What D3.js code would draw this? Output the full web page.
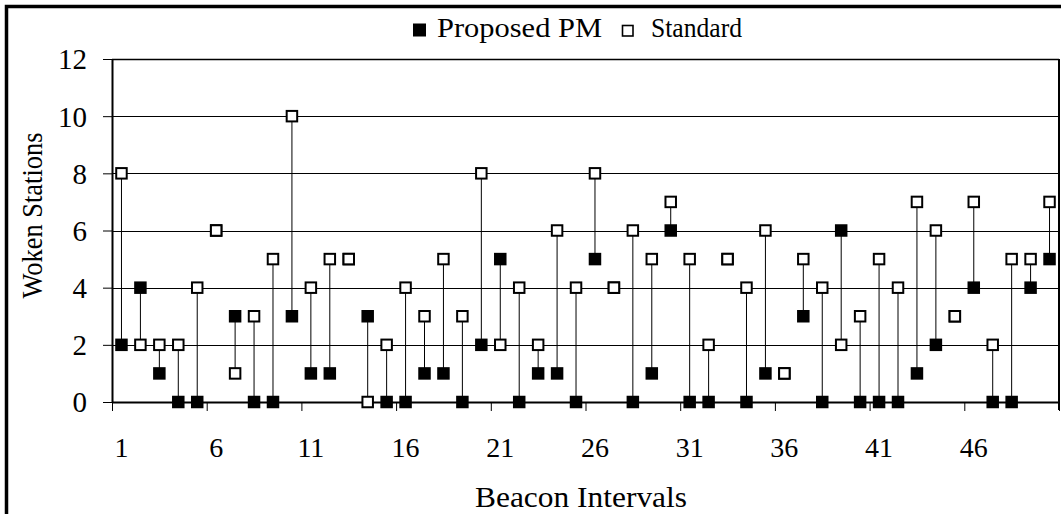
<!DOCTYPE html>
<html>
<head>
<meta charset="utf-8">
<script src="https://cdn.jsdelivr.net/npm/d3@7"></script>
<style>
  html, body { margin: 0; padding: 0; background: #fff; }
  svg { display: block; }
</style>
</head>
<body>
<svg id="chart" width="1061" height="514"></svg>
<script>
// ---- data ----
const categories = d3.range(1, 51);
const proposedPM = [2,4,1,0,0,6,3,0,0,3, 1,1,5,3,0,0,1,1,0,2, 5,0,1,1,0,5,4,0,1,6, 0,0,5,0,1,1,3,0,6,0, 0,0,1,2,3,4,0,0,4,5];
const standard   = [8,2,2,2,4,6,1,3,5,10, 4,5,5,0,2,4,3,5,3,8, 2,4,2,6,4,8,4,6,5,7, 5,2,5,4,6,1,5,4,2,3, 5,4,7,6,3,7,2,5,5,7];
const yTicks = [0,2,4,6,8,10,12];
const xTickLabels = [1,6,11,16,21,26,31,36,41,46];
const seriesNames = ["Proposed PM", "Standard"];
const yTitle = "Woken Stations";
const xTitle = "Beacon Intervals";

// ---- pick an installed serif font ----
function fontAvailable(name) {
  const c = document.createElement("canvas").getContext("2d");
  const s = "Proposed PM Woken Stations 0123456789 Wj";
  const res = [];
  for (const fb of ["monospace", "sans-serif"]) {
    c.font = `40px ${fb}`; const w0 = c.measureText(s).width;
    c.font = `40px "${name}", ${fb}`; const w1 = c.measureText(s).width;
    res.push(Math.abs(w0 - w1) > 0.5);
  }
  return res[0] && res[1];
}
const serifCandidates = ["Liberation Serif", "Tinos", "Times New Roman", "Times", "DejaVu Serif", "Noto Serif", "FreeSerif", "Nimbus Roman", "Nimbus Roman No9 L", "Georgia"];
const found = serifCandidates.find(fontAvailable);
const FONT = found ? `"${found}", serif` : "serif";

// ---- layout ----
const L = 112, R = 1059, T = 59, B = 402;
const svg = d3.select("#chart").attr("font-family", FONT);

const x = d3.scaleBand().domain(categories).range([L, R]).paddingInner(0).paddingOuter(0);
const xb = d3.scaleLinear().domain([0, categories.length]).range([L, R]);
const y = d3.scaleLinear().domain([0, 12]).range([B, T]);
const cx = c => x(c) + x.bandwidth() / 2;

// outer frame (cropped)
svg.append("path").attr("d", `M6.5,520 V6.5 H1070`)
  .attr("fill", "none").attr("stroke", "#000").attr("stroke-width", 3.5);

// gridlines
svg.append("g").selectAll("line").data(yTicks.filter(v => v > 0)).join("line")
  .attr("x1", L).attr("x2", R)
  .attr("y1", d => Math.round(y(d)) + 0.5).attr("y2", d => Math.round(y(d)) + 0.5)
  .attr("stroke", "#000").attr("stroke-width", d => d === 12 ? 1.6 : 1);

// right border of plot area
svg.append("line").attr("x1", R).attr("x2", R).attr("y1", T).attr("y2", B + 8)
  .attr("stroke", "#000").attr("stroke-width", 2);

// y axis
const yAxis = svg.append("g").attr("transform", `translate(${L},0)`)
  .call(d3.axisLeft(y).tickValues(yTicks).tickSize(9).tickSizeOuter(0).tickPadding(16));
yAxis.attr("font-family", FONT);
yAxis.select(".domain").attr("stroke-width", 2);
yAxis.selectAll(".tick line").attr("stroke-width", 1);
yAxis.selectAll(".tick text").attr("font-family", FONT).style("font-size", "29px").attr("dy", "0.34em");

// x axis: ticks at category boundaries
const xAxis = svg.append("g").attr("transform", `translate(0,${B})`)
  .call(d3.axisBottom(xb).tickValues(d3.range(0, 51, 5)).tickSize(9).tickSizeOuter(0).tickFormat(""));
xAxis.select(".domain").attr("stroke-width", 2);
xAxis.selectAll(".tick line").attr("stroke-width", 1);

// x labels at category centers
const xLab = svg.append("g").attr("transform", `translate(0,${B})`)
  .call(d3.axisBottom(x).tickValues(xTickLabels).tickSize(0).tickPadding(0));
xLab.attr("font-family", FONT);
xLab.select(".domain").remove();
xLab.selectAll(".tick text").attr("font-family", FONT).style("font-size", "28px").attr("y", 55).attr("dy", 0);

// high-low lines
svg.append("g").selectAll("line").data(categories).join("line")
  .attr("x1", (c) => cx(c)).attr("x2", (c) => cx(c))
  .attr("y1", (c, i) => y(proposedPM[i])).attr("y2", (c, i) => y(standard[i]))
  .attr("stroke", "#000").attr("stroke-width", 1);

// markers
const ms = 12.5;
svg.append("g").selectAll("rect").data(categories).join("rect")
  .attr("x", (c) => cx(c) - ms / 2).attr("y", (c, i) => y(proposedPM[i]) - ms / 2)
  .attr("width", ms).attr("height", ms).attr("fill", "#000");
const mo = 10.5;
svg.append("g").selectAll("rect").data(categories).join("rect")
  .attr("x", (c) => cx(c) - mo / 2).attr("y", (c, i) => y(standard[i]) - mo / 2)
  .attr("width", mo).attr("height", mo).attr("fill", "#fff")
  .attr("stroke", "#000").attr("stroke-width", 2);

// legend
const lg = svg.append("g");
lg.append("rect").attr("x", 413).attr("y", 23.5).attr("width", 13).attr("height", 13).attr("fill", "#000");
lg.append("text").attr("x", 437).attr("y", 36.7).attr("font-family", FONT).style("font-size", "27px")
  .attr("textLength", 165).attr("lengthAdjust", "spacingAndGlyphs").text(seriesNames[0]);
lg.append("rect").attr("x", 622.5).attr("y", 25.5).attr("width", 10.5).attr("height", 10.5)
  .attr("fill", "#fff").attr("stroke", "#000").attr("stroke-width", 1.6);
lg.append("text").attr("x", 651).attr("y", 36.7).attr("font-family", FONT).style("font-size", "27px")
  .attr("textLength", 91).attr("lengthAdjust", "spacingAndGlyphs").text(seriesNames[1]);

// axis titles
svg.append("text").attr("transform", "translate(42,215.5) rotate(-90)")
  .attr("font-family", FONT)
  .attr("text-anchor", "middle").style("font-size", "30px")
  .attr("textLength", 166).attr("lengthAdjust", "spacingAndGlyphs").text(yTitle);
svg.append("text").attr("x", 581).attr("y", 507).attr("text-anchor", "middle")
  .attr("font-family", FONT).style("font-size", "29px")
  .attr("textLength", 212).attr("lengthAdjust", "spacingAndGlyphs").text(xTitle);
</script>
</body>
</html>
